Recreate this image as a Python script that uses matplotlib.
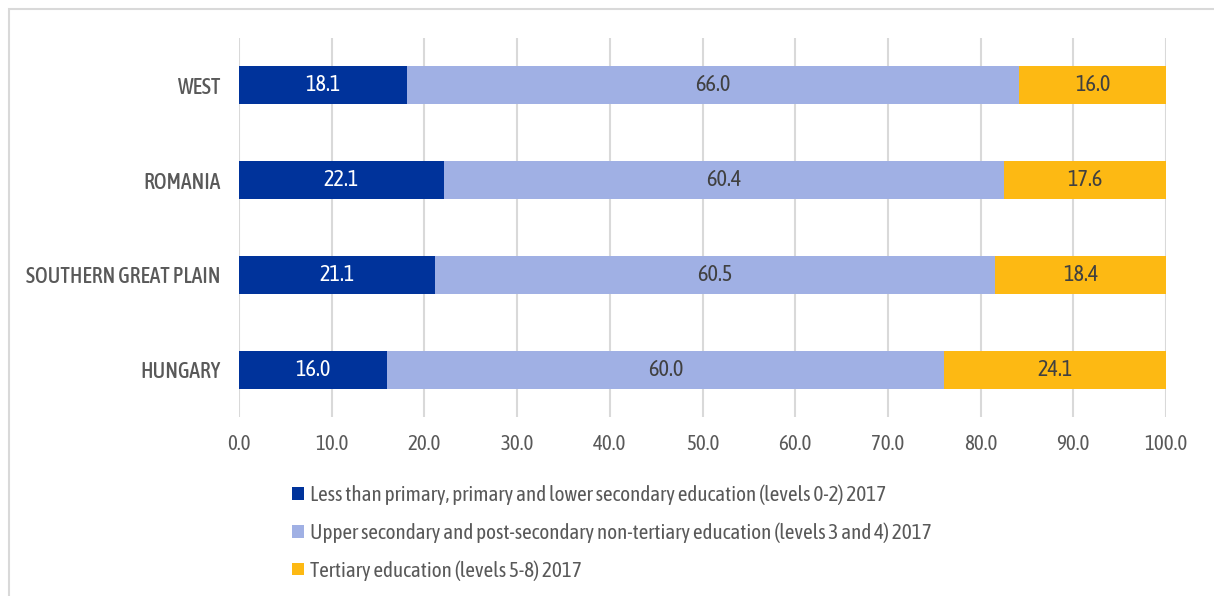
import matplotlib
matplotlib.use("Agg")
import matplotlib.pyplot as plt
from matplotlib.patches import Rectangle
from matplotlib import font_manager

# Data
regions = ["HUNGARY", "SOUTHERN GREAT PLAIN", "ROMANIA", "WEST"]
low_edu = [16.0, 21.1, 22.1, 18.1]
mid_edu = [60.0, 60.5, 60.4, 66.0]
high_edu = [24.1, 18.4, 17.6, 16.0]
series_names = [
    "Less than primary, primary and lower secondary education (levels 0-2) 2017",
    "Upper secondary and post-secondary non-tertiary education (levels 3 and 4) 2017",
    "Tertiary education (levels 5-8) 2017",
]
x_ticks = [0, 10, 20, 30, 40, 50, 60, 70, 80, 90, 100]

# Pick a narrow face if one is installed, preferring one with a bold cut
fonts = font_manager.fontManager.ttflist
narrow_fonts = [f for f in fonts if "Narrow" in f.name or "Condensed" in f.name]
with_bold = sorted({f.name for f in narrow_fonts
                    if isinstance(f.weight, int) and f.weight >= 600 or f.weight in ("bold", "semibold", "demibold")})
narrow = sorted({f.name for f in narrow_fonts})
if with_bold:
    family = with_bold[0]
elif narrow:
    family = narrow[0]
else:
    family = "DejaVu Sans"
plt.rcParams["font.family"] = [family, "DejaVu Sans"]

colors = ["#00339B", "#A0B0E4", "#FDB913"]
text_colors = ["white", "#404040", "#404040"]
grey = "#595959"

fig = plt.figure(figsize=(12.14, 5.96), dpi=100)
ax = fig.add_axes([239 / 1214, 1 - 417 / 596, (1166 - 239) / 1214, (417 - 38) / 596])

y = range(len(regions))
left = [0.0] * len(regions)
for vals, col, tcol, name in zip([low_edu, mid_edu, high_edu], colors, text_colors, series_names):
    bars = ax.barh(y, vals, left=left, height=0.4, color=col, label=name, zorder=3)
    for b, v in zip(bars, vals):
        ax.text(b.get_x() + b.get_width() / 2, b.get_y() + b.get_height() / 2,
                f"{v:.1f}", ha="center", va="center", color=tcol,
                fontsize=16, zorder=4)
    left = [l + v for l, v in zip(left, vals)]

ax.set_xlim(0, 100)
ax.set_ylim(-0.5, len(regions) - 0.5)
ax.set_xticks(x_ticks)
ax.set_xticklabels([f"{t:.1f}" for t in x_ticks], fontsize=15, color=grey)
ax.set_yticks(list(y))
ax.set_yticklabels(regions, fontsize=15.5, color=grey, fontweight="medium")
ax.tick_params(axis="both", length=0)
ax.tick_params(axis="x", pad=12)
ax.tick_params(axis="y", pad=13)
ax.grid(axis="x", color="#D9D9D9", linewidth=1.5, zorder=0)
for s in ax.spines.values():
    s.set_visible(False)

leg = fig.legend(loc="upper left", bbox_to_anchor=(284 / 1214, 1 - 476 / 596),
                 frameon=False, fontsize=15.2, handlelength=0.55, handleheight=0.55,
                 handletextpad=0.3, labelspacing=0.82, labelcolor=grey,
                 borderaxespad=0)

# Outer chart frame
fig.patches.append(Rectangle((9 / 1214, -0.1), 1.2, 1 - 9 / 596 + 0.1,
                             transform=fig.transFigure, fill=False,
                             edgecolor="#D9D9D9", linewidth=1.5))

fig.savefig("out.png", dpi=100)
